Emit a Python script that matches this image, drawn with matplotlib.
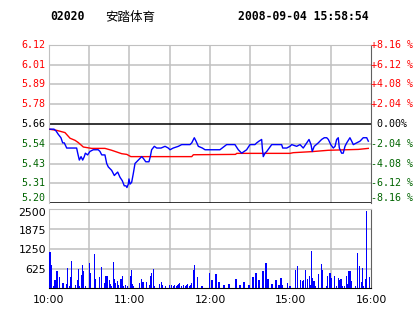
import matplotlib
matplotlib.use("Agg")
import matplotlib.pyplot as plt

# ---------------------------------------------------------------
# data (minutes since 10:00 on the 240-minute trading axis)
# ---------------------------------------------------------------
PREV_CLOSE = 5.66
PCT_LEVELS = [8.16, 6.12, 4.08, 2.04, 0.0, -2.04, -4.08, -6.12, -8.16]
PRICE_LABELS = ["6.12", "6.01", "5.89", "5.78", "5.66", "5.54", "5.43", "5.31", "5.20"]
PCT_LABELS = ["+8.16 %", "+6.12 %", "+4.08 %", "+2.04 %", " 0.00%",
              "-2.04 %", "-4.08 %", "-6.12 %", "-8.16 %"]

price_t = [0.7, 3.7, 5.2, 6.9, 8.9, 10.2, 11.4, 13.2, 20.6, 21.4, 22.6, 23.9, 25.1, 26.3,
           27.1, 28.8, 30.5, 33.0, 36.7, 38.0, 39.3, 41.7, 43.0, 44.2, 46.7, 48.7, 49.9,
           51.2, 52.9, 54.6, 56.1, 57.4, 58.1, 59.1, 59.6, 60.4, 61.6, 62.8, 64.1, 66.6,
           69.1, 70.3, 72.1, 74.5, 75.5, 76.5, 78.5, 80.3, 83.5, 86.5, 88.9, 90.2, 92.6,
           96.4, 98.9, 105.1, 106.4, 108.3, 109.6, 111.3, 114.3, 116.3, 127.4, 132.4,
           138.6, 141.1, 143.6, 147.3, 149.8, 153.5, 154.8, 156.5, 158.5, 159.0, 159.7,
           161.0, 162.3, 166.0, 173.4, 174.2, 177.2, 179.6, 180.9, 184.6, 187.1, 189.5,
           192.1, 193.8, 195.3, 196.2, 197.7, 200.7, 203.2, 205.2, 207.0, 208.2, 210.0,
           211.9, 213.2, 214.4, 215.6, 216.4, 218.1, 219.3, 220.6, 221.9, 224.3, 225.6,
           226.8, 229.3, 231.8, 234.2, 236.8, 238.0]
price = [5.63, 5.63, 5.62, 5.60, 5.58, 5.55, 5.55, 5.52, 5.52, 5.49, 5.45, 5.47, 5.45, 5.47,
         5.49, 5.48, 5.50, 5.51, 5.51, 5.50, 5.48, 5.48, 5.43, 5.41, 5.39, 5.36, 5.37,
         5.38, 5.35, 5.33, 5.30, 5.30, 5.29, 5.31, 5.34, 5.31, 5.32, 5.37, 5.43, 5.45,
         5.47, 5.46, 5.44, 5.44, 5.47, 5.51, 5.53, 5.52, 5.52, 5.53, 5.52, 5.51, 5.52,
         5.53, 5.54, 5.54, 5.55, 5.58, 5.56, 5.53, 5.52, 5.51, 5.51, 5.54,
         5.54, 5.51, 5.49, 5.51, 5.54, 5.54, 5.55, 5.56, 5.57, 5.52, 5.47,
         5.49, 5.50, 5.54, 5.54, 5.52, 5.52, 5.53, 5.54, 5.53, 5.54, 5.52,
         5.55, 5.57, 5.54, 5.50, 5.53, 5.55, 5.57, 5.58, 5.58, 5.57, 5.54,
         5.52, 5.53, 5.57, 5.58, 5.52, 5.49, 5.49, 5.53, 5.55, 5.58, 5.56,
         5.54, 5.55, 5.56, 5.58, 5.58, 5.56]

avg_t = [0.7, 5.7, 11.9, 15.7, 19.4, 21.8, 25.6, 31.8, 41.7, 46.7, 54.2, 58.0, 61.0,
         106.4, 107.6, 139.0, 139.9, 179.6, 182.1, 195.8, 208.2, 230.5, 238.0]
avg_price = [5.629, 5.623, 5.610, 5.577, 5.565, 5.552, 5.526, 5.518, 5.518, 5.507, 5.487,
             5.483, 5.470, 5.470, 5.481, 5.483, 5.489, 5.489, 5.493, 5.499, 5.507,
             5.512, 5.518]

vol_t = [0.7, 1.5, 3.7, 4.5, 6.0, 7.7, 9.9, 10.7, 13.2, 13.9, 15.1, 15.9, 16.6, 19.6,
         21.6, 22.1, 22.6, 24.1, 24.8, 25.6, 27.4, 30.0, 30.7, 33.8, 34.5, 37.5, 39.0,
         41.7, 42.5, 43.2, 44.9, 45.7, 46.4, 47.9, 48.7, 49.7, 51.2, 51.9, 53.7, 54.6,
         55.7, 57.2, 58.4, 60.6, 61.3, 62.1, 63.1, 67.3, 68.8, 69.5, 70.3, 72.5, 74.8,
         75.5, 76.2, 77.7, 78.5, 82.2, 83.7, 84.4, 86.7, 89.7, 91.2, 92.6, 93.4, 94.9,
         95.6, 96.4, 97.1, 98.6, 100.1, 101.6, 102.3, 103.1, 104.6, 105.3, 106.4, 107.8,
         108.6, 110.8, 113.8, 114.6, 119.8, 121.5, 124.5, 126.7, 130.4, 134.2, 139.4,
         142.3, 145.3, 149.1, 152.0, 154.3, 156.5, 159.5, 161.7, 163.2, 166.2, 169.2,
         171.4, 172.9, 173.7, 177.6, 179.6, 183.6, 185.1, 187.6, 188.8, 189.5, 191.0,
         192.5, 194.0, 194.7, 195.5, 196.5, 197.5, 198.5, 201.0, 202.9, 203.7, 207.0,
         207.7, 209.4, 210.4, 212.6, 214.4, 215.6, 216.4, 217.6, 218.9, 220.1, 221.6,
         222.3, 223.6, 224.6, 225.6, 228.3, 229.8, 231.3, 232.8, 233.5, 234.5, 236.0,
         236.8, 238.7]
vol = [1141, 738, 73, 263, 548, 368, 158, 158, 136, 653, 73, 368, 865, 95,
       263, 611, 73, 421, 738, 548, 73, 801, 474, 1087, 295, 358, 675,
       158, 390, 390, 263, 136, 73, 833, 295, 158, 241, 95, 295, 390,
       73, 95, 73, 390, 580, 136, 73, 158, 295, 190, 190, 190, 95,
       390, 474, 611, 73, 136, 200, 95, 73, 95, 95, 73, 95, 73,
       95, 136, 158, 73, 95, 73, 95, 136, 73, 95, 158, 580,
       738, 358, 73, 73, 485, 250, 450, 200, 100, 150, 300,
       120, 200, 100, 350, 480, 250, 550, 800, 300, 150, 250,
       120, 317, 105, 178, 73, 580, 707, 263, 221, 263, 580,
       295, 390, 105, 1182, 337, 221, 73, 453, 770, 580, 73,
       390, 495, 337, 390, 73, 327, 263, 295, 73, 73, 390,
       137, 548, 548, 221, 73, 1130, 707, 200, 633, 73, 285,
       2450, 368]

TIME_TICKS = [0, 60, 120, 180, 240]
TIME_LABELS = ["10:00", "11:00", "12:00", "15:00", "16:00"]
VOL_TICKS = [625, 1250, 1875, 2500]

RED = "#ff0000"
GREEN = "#006400"
BLUE = "#0000ff"
GRID = "#c0c0c0"

W, H = 414, 314
fig = plt.figure(figsize=(W / 100, H / 100), dpi=100)
fig.patch.set_facecolor("white")


def px_box(left, top, right, bottom):
    return [left / W, 1 - bottom / H, (right - left) / W, (bottom - top) / H]


def level_color(pct):
    if pct > 0:
        return RED
    return "black" if pct == 0 else GREEN


# header
fig.text(50 / W, 1 - 17 / H, "02020", family="DejaVu Sans Mono", weight="bold",
         fontsize=8.3, va="center", ha="left")
fig.text(105 / W, 1 - 17 / H, "安踏体育", family=["Noto Sans CJK SC", "DejaVu Sans"],
         fontsize=9, va="center", ha="left")
fig.text(238 / W, 1 - 17 / H, "2008-09-04 15:58:54", family="DejaVu Sans Mono",
         weight="bold", fontsize=8.3, va="center", ha="left")

# ---------------- price panel ----------------
ax = fig.add_axes(px_box(49, 44.7, 371, 203.3))
levels = [PREV_CLOSE * (1 + p / 100) for p in PCT_LEVELS]
ax.set_xlim(0, 240)
ax.set_ylim(levels[-1], levels[0])
for lv, pct in zip(levels, PCT_LEVELS):
    if pct == 0 or lv == levels[-1]:
        ax.axhline(lv, color="black", lw=1.1, zorder=2)
    else:
        ax.axhline(lv, color=GRID, lw=1.1, zorder=1)
for t in range(30, 240, 30):
    ax.axvline(t, color=GRID, lw=1.1, zorder=1)

ax.plot(avg_t, avg_price, color=RED, lw=1.0, zorder=3)
ax.plot(price_t, price, color=BLUE, lw=1.0, zorder=4)

ax.set_xticks([])
ax.set_yticks([])
ytf = ax.get_yaxis_transform()
for i, (lv, pct) in enumerate(zip(levels, PCT_LEVELS)):
    col = level_color(pct)
    dy = 5 if i == len(levels) - 1 else 0
    ax.annotate(PRICE_LABELS[i], xy=(0, lv), xycoords=ytf, xytext=(-4, dy),
                textcoords="offset pixels", family="DejaVu Sans Mono", fontsize=7.2,
                color=col, ha="right", va="center", annotation_clip=False)
    ax.annotate(PCT_LABELS[i], xy=(1, lv), xycoords=ytf, xytext=(0, dy),
                textcoords="offset pixels", family="DejaVu Sans Mono", fontsize=7.2,
                color=col, ha="left", va="center", annotation_clip=False)
for s in ["left", "top"]:
    ax.spines[s].set_color(GRID)
ax.spines["bottom"].set_visible(False)
ax.spines["right"].set_color("#606060")

# ---------------- volume panel ----------------
vx = fig.add_axes(px_box(49, 209.4, 371, 288.3))
vx.set_xlim(0, 240)
vx.set_ylim(0, 2500)
for v in VOL_TICKS[:-1]:
    vx.axhline(v, color=GRID, lw=1.1, zorder=1)
for t in range(30, 240, 30):
    vx.axvline(t, color=GRID, lw=1.1, zorder=1)
vx.bar(vol_t, vol, width=1.0, color=BLUE, zorder=3)
vx.set_yticks([])
vtf = vx.get_yaxis_transform()
for v in VOL_TICKS:
    dy = -4 if v == VOL_TICKS[-1] else -1.5
    vx.annotate(str(v), xy=(0, v), xycoords=vtf, xytext=(-3, dy),
                textcoords="offset pixels", family="DejaVu Sans", fontsize=7.8,
                ha="right", va="center", annotation_clip=False)
vx.set_xticks(TIME_TICKS)
vx.set_xticklabels(TIME_LABELS, family="DejaVu Sans", fontsize=7.8)
vx.tick_params(axis="x", length=0, pad=5)
for s in ["left", "top"]:
    vx.spines[s].set_color(GRID)
vx.spines["right"].set_color("#606060")
vx.spines["bottom"].set_color("black")

fig.savefig("out.png", dpi=100)
